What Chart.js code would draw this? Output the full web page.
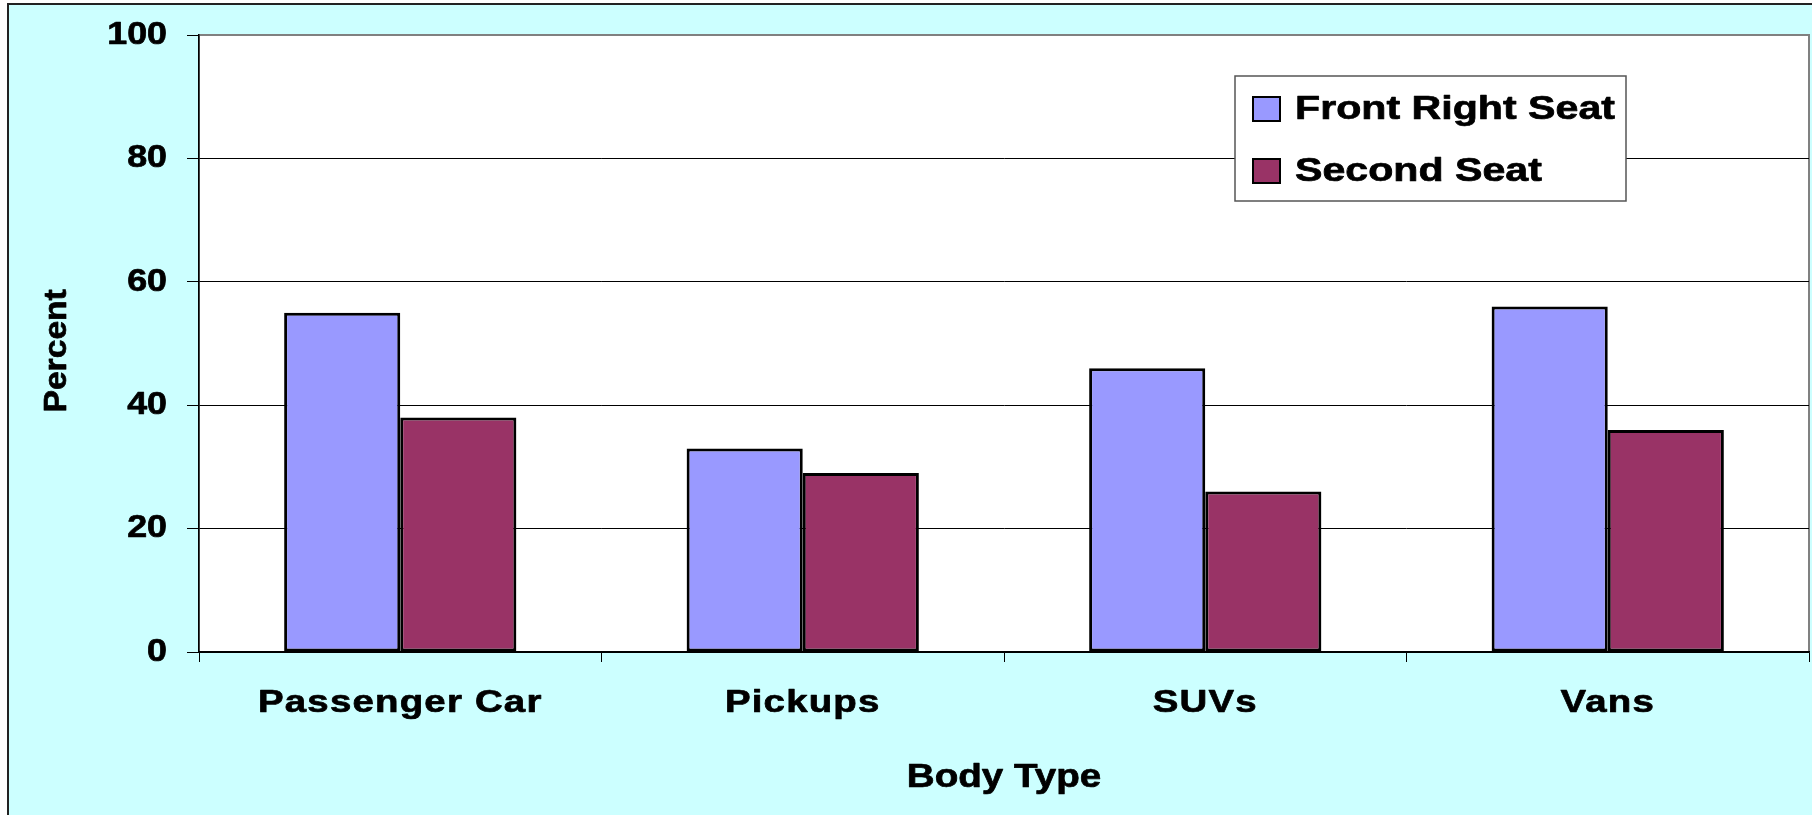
<!DOCTYPE html>
<html>
<head>
<meta charset="utf-8">
<script src="https://cdn.jsdelivr.net/npm/chart.js@4/dist/chart.umd.min.js"></script>
<style>
  html, body { margin: 0; padding: 0; background: #ffffff; }
  #wrap { width: 1812px; height: 815px; position: relative; }
  canvas { display: block; }
</style>
</head>
<body>
<div id="wrap"><canvas id="c" width="1812" height="815"></canvas></div>
<script>
const categories = ['Passenger Car', 'Pickups', 'SUVs', 'Vans'];
const seriesNames = ['Front Right Seat', 'Second Seat'];
const frontRightSeat = [55, 33, 46, 56];
const secondSeat = [38, 29, 26, 36];
const yTicks = [0, 20, 40, 60, 80, 100];
const xTitle = 'Body Type';
const yTitle = 'Percent';

const FONT = "'Liberation Sans', Arial, sans-serif";

const canvas = document.getElementById('c');
const c2d = canvas.getContext('2d');
const protoFill = CanvasRenderingContext2D.prototype.fillText;
const protoStroke = CanvasRenderingContext2D.prototype.strokeText;
c2d.__sx = 1; c2d.__dx = 0; c2d.__bold = 0;
c2d.fillText = function (t, x, y, mw) {
  if (this.__sx !== 1 || this.__dx !== 0 || this.__bold) {
    this.save();
    this.translate(x, y);
    this.scale(this.__sx, 1);
    this.translate(this.__dx, 0);
    protoFill.call(this, t, 0, 0);
    if (this.__bold) {
      this.strokeStyle = this.fillStyle;
      this.lineWidth = this.__bold;
      this.lineJoin = 'round';
      protoStroke.call(this, t, 0, 0);
    }
    this.restore();
  } else if (mw !== undefined) {
    protoFill.call(this, t, x, y, mw);
  } else {
    protoFill.call(this, t, x, y);
  }
};

function wrapText(scale, method, spacing, sx, dx) {
  if (scale[method] && scale[method].__wrapped) return;
  const orig = scale[method];
  const f = function () {
    const ctx = this.ctx;
    ctx.save();
    ctx.letterSpacing = spacing;
    ctx.__sx = sx; ctx.__dx = dx || 0; ctx.__bold = 0.7;
    orig.apply(this, arguments);
    ctx.__sx = 1; ctx.__dx = 0; ctx.__bold = 0;
    ctx.restore();
  };
  f.__wrapped = true;
  scale[method] = f;
}

const bgPlugin = {
  id: 'bg',
  beforeDraw(chart) {
    const ctx = chart.ctx;
    const W = chart.width, H = chart.height;
    const a = chart.chartArea;
    ctx.save();
    ctx.fillStyle = '#ffffff';
    ctx.fillRect(0, 0, W, H);
    ctx.fillStyle = '#CCFFFF';
    ctx.fillRect(8, 4, W, H);
    ctx.strokeStyle = '#222222';
    ctx.lineWidth = 2;
    ctx.strokeRect(8, 4, W + 10, H + 10);
    ctx.fillStyle = '#ffffff';
    ctx.fillRect(a.left, a.top, a.right - a.left, a.bottom - a.top);
    ctx.strokeStyle = '#808080';
    ctx.lineWidth = 2;
    ctx.strokeRect(a.left, a.top, a.right - a.left, a.bottom - a.top);
    ctx.restore();
    const x = chart.scales.x, y = chart.scales.y;
    wrapText(x, 'drawLabels', '1px', 1.2, 0);
    wrapText(x, 'drawTitle', '0px', 1.17, 0);
    wrapText(y, 'drawLabels', '0px', 1.12, 0);
    wrapText(y, 'drawTitle', '0px', 1.05, -7);
  }
};

const legendPlugin = {
  id: 'boxLegend',
  afterDraw(chart) {
    const ctx = chart.ctx;
    const bx = 1235, by = 76, bw = 391, bh = 125;
    ctx.save();
    ctx.fillStyle = '#ffffff';
    ctx.fillRect(bx, by, bw, bh);
    ctx.strokeStyle = '#555555';
    ctx.lineWidth = 1.5;
    ctx.strokeRect(bx, by, bw, bh);
    ctx.font = 'bold 34px ' + FONT;
    ctx.textBaseline = 'middle';
    ctx.textAlign = 'left';
    chart.data.datasets.forEach((ds, i) => {
      const cy = 109 + i * 62;
      ctx.fillStyle = ds.backgroundColor;
      ctx.fillRect(1253, cy - 12, 27, 24);
      ctx.strokeStyle = '#000000';
      ctx.lineWidth = 2;
      ctx.strokeRect(1253, cy - 12, 27, 24);
      ctx.fillStyle = '#000000';
      ctx.__sx = 1.21; ctx.__bold = 0.7;
      ctx.fillText(ds.label, 1295, cy + 1);
      ctx.__sx = 1; ctx.__bold = 0;
    });
    ctx.restore();
  }
};

new Chart(canvas, {
  type: 'bar',
  data: {
    labels: categories,
    datasets: [
      { label: seriesNames[0], data: frontRightSeat, backgroundColor: '#9999FF', borderColor: '#000000', borderWidth: 3, borderSkipped: false },
      { label: seriesNames[1], data: secondSeat, backgroundColor: '#993366', borderColor: '#000000', borderWidth: 3, borderSkipped: false }
    ]
  },
  plugins: [bgPlugin, legendPlugin],
  options: {
    responsive: false,
    animation: false,
    devicePixelRatio: 1,
    layout: { padding: { top: 35, right: 3, left: 0, bottom: 0 } },
    datasets: { bar: { barPercentage: 1.0, categoryPercentage: 0.577 } },
    plugins: { legend: { display: false }, tooltip: { enabled: false }, title: { display: false } },
    scales: {
      x: {
        offset: true,
        grid: { display: true, drawOnChartArea: false, drawTicks: true, tickLength: 10, tickColor: '#000000', offset: true, lineWidth: 1 },
        border: { display: true, color: '#000000', width: 1.5 },
        ticks: { color: '#000000', font: { family: FONT, size: 32, weight: 'bold' }, padding: 22, maxRotation: 0, autoSkip: false },
        title: { display: true, text: xTitle, color: '#000000', font: { family: FONT, size: 33, weight: 'bold' }, padding: { top: 0, bottom: 17 } },
        afterFit(scale) { scale.height = 163; scale.paddingLeft = 0; scale.paddingRight = 0; }
      },
      y: {
        min: 0, max: 100,
        afterBuildTicks(scale) { scale.ticks = yTicks.map(v => ({ value: v })); },
        grid: {
          color: ctx => (ctx.tick && ctx.tick.value === 100) ? '#808080' : '#000000',
          lineWidth: 1, tickLength: 12, tickColor: '#000000', drawTicks: true
        },
        border: { display: true, color: '#000000', width: 1.5 },
        ticks: { color: '#000000', font: { family: FONT, size: 32, weight: 'bold' }, padding: 20 },
        title: { display: true, text: yTitle, color: '#000000', font: { family: FONT, size: 32, weight: 'bold' }, padding: { top: 38, bottom: 0 } },
        afterFit(scale) { scale.width = 199; scale.paddingTop = 0; scale.paddingBottom = 0; }
      }
    }
  }
});
</script>
</body>
</html>
